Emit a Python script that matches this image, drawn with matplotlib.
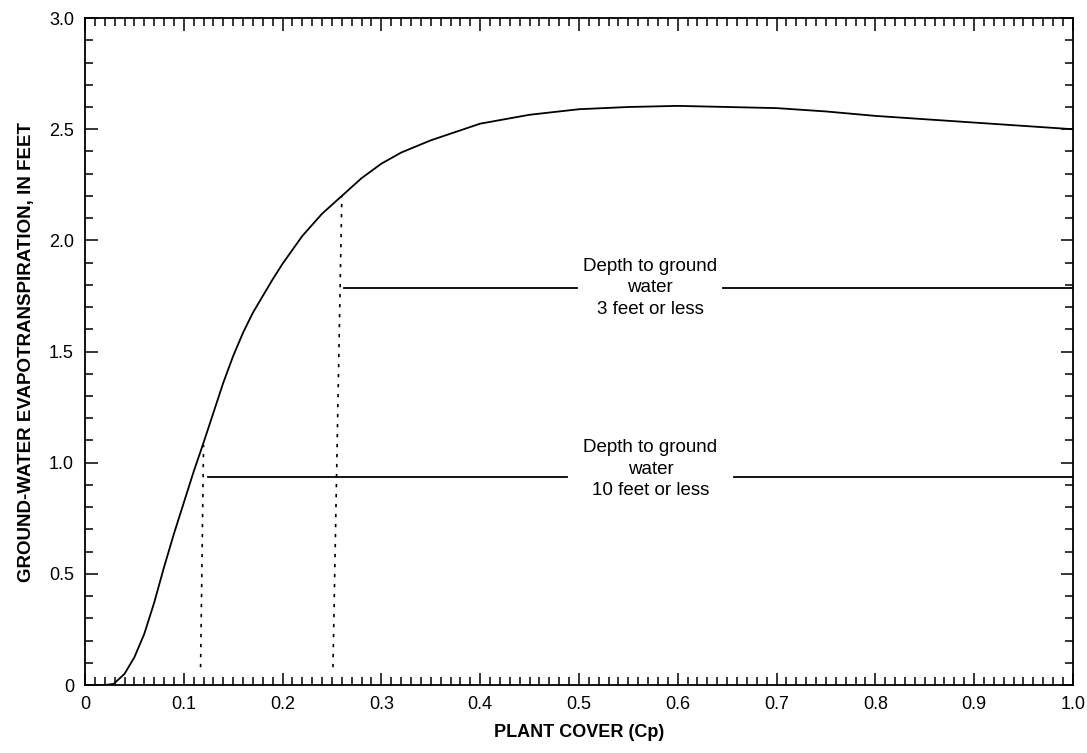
import matplotlib
matplotlib.use('Agg')
import matplotlib.pyplot as plt
from matplotlib.ticker import MultipleLocator, FixedFormatter, FixedLocator

plt.rcParams['font.family'] = ['Liberation Sans', 'DejaVu Sans']

# curve
plant_cover = [0.0, 0.02, 0.029, 0.04, 0.05, 0.06, 0.07, 0.08, 0.09, 0.10,
               0.11, 0.12, 0.13, 0.14, 0.15, 0.16, 0.17, 0.18, 0.19, 0.20,
               0.22, 0.24, 0.26, 0.28, 0.30, 0.32, 0.35, 0.40, 0.45, 0.50,
               0.55, 0.60, 0.65, 0.70, 0.75, 0.80, 0.85, 0.90, 0.95, 1.0]
et_feet = [0.0, 0.0, 0.005, 0.05, 0.125, 0.23, 0.37, 0.53, 0.68, 0.82,
           0.96, 1.09, 1.225, 1.36, 1.48, 1.585, 1.675, 1.75, 1.825, 1.895,
           2.02, 2.12, 2.20, 2.28, 2.345, 2.395, 2.45, 2.525, 2.565, 2.59,
           2.60, 2.605, 2.60, 2.595, 2.58, 2.56, 2.545, 2.53, 2.515, 2.50]

# dotted markers (bottom x, top x, bottom y, top y)
dotted = [(0.117, 0.120, 0.08, 1.08), (0.251, 0.260, 0.08, 2.20)]

# bracket lines with labels: line y, start x, gap start, gap end, text y, label
brackets = [
    (1.786, 0.262, 0.498, 0.646, 1.786, 'Depth to ground\nwater\n3 feet or less'),
    (0.936, 0.125, 0.488, 0.657, 0.970, 'Depth to ground\nwater\n10 feet or less'),
]

fig = plt.figure(figsize=(10.87, 7.53), dpi=100)
ax = fig.add_axes([0.0782, 0.0903, 0.9088, 0.8857])

ax.plot(plant_cover, et_feet, color='black', lw=1.3)

for x0, x1, y0, y1 in dotted:
    ax.plot([x0, x1], [y0, y1], color='black', lw=1.2, ls=(0, (2, 4)))

for y, xs, g0, g1, ty, label in brackets:
    ax.plot([xs, g0], [y, y], color='black', lw=1.3)
    ax.plot([g1, 1.0], [y, y], color='black', lw=1.3)
    ax.text((g0 + g1) / 2, ty, label, ha='center', va='center',
            fontsize=13.5, linespacing=1.35)

ax.set_xlim(0, 1.0)
ax.set_ylim(0, 3.0)

xt = [i / 10 for i in range(11)]
ax.xaxis.set_major_locator(FixedLocator(xt))
ax.xaxis.set_major_formatter(FixedFormatter(['0'] + ['%.1f' % v for v in xt[1:]]))
ax.xaxis.set_minor_locator(MultipleLocator(0.01))
yt = [i / 2 for i in range(7)]
ax.yaxis.set_major_locator(FixedLocator(yt))
ax.yaxis.set_major_formatter(FixedFormatter(['0'] + ['%.1f' % v for v in yt[1:]]))
ax.yaxis.set_minor_locator(MultipleLocator(0.1))

ax.tick_params(which='both', direction='in', top=True, right=True,
               labelsize=13, width=1.1, pad=8)
ax.tick_params(which='major', length=9)
ax.tick_params(which='minor', length=5.5)
for s in ax.spines.values():
    s.set_linewidth(1.3)

ax.set_xlabel('PLANT COVER (Cp)', fontsize=13, fontweight='bold', labelpad=8)
ax.set_ylabel('GROUND-WATER EVAPOTRANSPIRATION, IN FEET', fontsize=13.5,
              fontweight='bold', labelpad=10)

fig.savefig('out.png', dpi=100)
